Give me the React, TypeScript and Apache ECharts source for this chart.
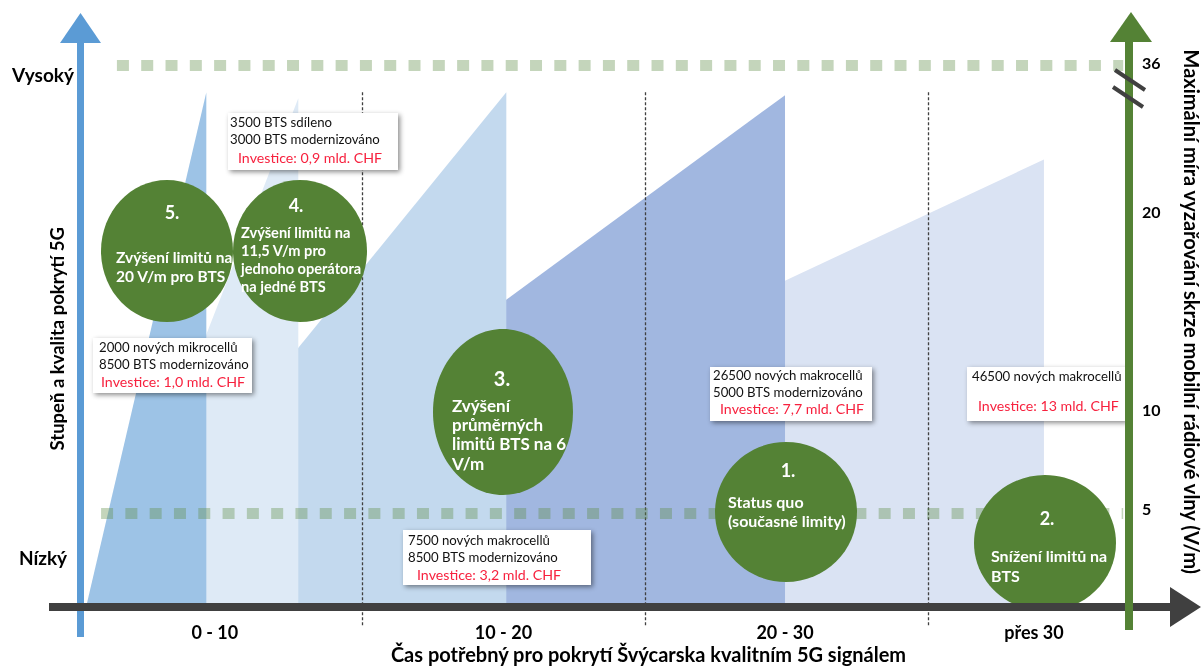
import React, { useEffect, useRef } from "react";
import * as echarts from "echarts";

const FONT = 'Lato, "Noto Sans", sans-serif';

// ---- data ----
const periodLabels = ["0 - 10", "10 - 20", "20 - 30", "přes 30"];
const periodCenters = [4.8, 15, 24.95, 33.75];
const periodBoundaries = [10, 20, 30];

const levelLabels = ["Nízký", "Vysoký"];
const levelValues = [2.5, 26.9];

const limitLabels = ["5", "10", "20", "36"];
const limitValues = [5, 10, 20, 27.5];
const limitGuideValues = [4.75, 27.35];
const limitGuideStarts = [0.78, 1.34];

// scenario coverage shapes: [time, coverage]
const scenario2 = [[0.3, 0], [34.1, 22.6], [34.1, 0]];
const scenario1 = [[0.3, 0], [24.95, 25.85], [24.95, 0]];
const scenario3 = [[0.3, 0], [15.1, 26], [15.1, 0]];
const scenario4 = [[0.75, 0], [7.75, 25.7], [7.75, 0]];
const scenario5 = [[0.25, 0], [4.5, 26], [4.5, 0]];

const circleTitles = ["5.", "4.", "3.", "1.", "2."];
const circleTexts = [
  ["Zvýšení limitů na", "20 V/m pro BTS"],
  ["Zvýšení limitů na", "11,5 V/m pro", "jednoho operátora", "na jedné BTS"],
  ["Zvýšení", "průměrných", "limitů BTS na 6", "V/m"],
  ["Status quo", "(současné limity)"],
  ["Snížení limitů na", "BTS"],
];

const boxTexts = [
  ["3500 BTS sdíleno", "3000 BTS modernizováno"],
  ["2000 nových mikrocellů", "8500 BTS modernizováno"],
  ["7500 nových makrocellů", "8500 BTS modernizováno"],
  ["26500 nových makrocellů", "5000 BTS modernizováno"],
  ["46500 nových makrocellů"],
];
const boxInvestments = [
  "Investice: 0,9 mld. CHF",
  "Investice: 1,0 mld. CHF",
  "Investice: 3,2 mld. CHF",
  "Investice: 7,7 mld. CHF",
  "Investice: 13 mld. CHF",
];

const xAxisTitle = "Čas potřebný pro pokrytí Švýcarska kvalitním 5G signálem";
const leftAxisTitle = "Stupeň a kvalita pokrytí 5G";
const rightAxisTitle = "Maximální míra vyzařování skrze mobilní rádiové vlny (V/m)";

// ---- layout (pixels) ----
const circleLayout = [
  { cx: 167, cy: 251, rx: 66, ry: 71, tx: 172, ty: 212, lx: 116, ly: [257, 276], fs: 15.5, ts: 18 },
  { cx: 300, cy: 251, rx: 67, ry: 71, tx: 296, ty: 205, lx: 241, ly: [232, 250, 268, 286], fs: 14.6, ts: 18 },
  { cx: 503, cy: 412, rx: 70, ry: 83, tx: 502, ty: 378, lx: 452, ly: [405, 424, 443, 463], fs: 17, ts: 20 },
  { cx: 786, cy: 512, rx: 71, ry: 70, tx: 788, ty: 470, lx: 728, ly: [501, 520], fs: 16, ts: 18 },
  { cx: 1045, cy: 543, rx: 71, ry: 68, tx: 1047, ty: 518, lx: 991, ly: [555, 575], fs: 16, ts: 18 },
];

const boxLayout = [
  { x: 228, y: 113, w: 170, h: 57, lx: 230, ly: [122, 139], rx: 238, ry: 157 },
  { x: 93, y: 338, w: 159, h: 55, lx: 99, ly: [347, 364], rx: 101, ry: 381 },
  { x: 403, y: 530, w: 188, h: 55, lx: 408, ly: [540, 557], rx: 417, ry: 574 },
  { x: 710, y: 367, w: 162, h: 54, lx: 713, ly: [375, 392], rx: 720, ry: 408 },
  { x: 967, y: 367, w: 159, h: 54, lx: 972, ly: [376], rx: 978, ry: 405 },
];

const GREEN = "#548235";
const BLUE = "#5b9bd5";
const DARK = "#404040";

function buildGraphics() {
  const els: any[] = [];
  // axes decorations
  els.push({ type: "rect", z: 50, shape: { x: 77, y: 40, width: 7, height: 597 }, style: { fill: BLUE } });
  els.push({ type: "polygon", z: 50, shape: { points: [[60, 43], [80.5, 13], [101, 43]] }, style: { fill: BLUE } });
  els.push({ type: "rect", z: 51, shape: { x: 49, y: 603, width: 1122, height: 8 }, style: { fill: DARK } });
  els.push({ type: "polygon", z: 51, shape: { points: [[1170, 587], [1201, 607], [1170, 627]] }, style: { fill: DARK } });
  els.push({ type: "rect", z: 52, shape: { x: 1125, y: 40, width: 8, height: 590 }, style: { fill: GREEN } });
  els.push({ type: "polygon", z: 52, shape: { points: [[1110, 42], [1131, 12], [1152, 42]] }, style: { fill: GREEN } });
  els.push({ type: "line", z: 53, shape: { x1: 1115, y1: 70, x2: 1145, y2: 90 }, style: { stroke: DARK, lineWidth: 4 } });
  els.push({ type: "line", z: 53, shape: { x1: 1113, y1: 87, x2: 1143, y2: 107 }, style: { stroke: DARK, lineWidth: 4 } });

  // circles
  circleLayout.forEach((c, i) => {
    els.push({ type: "ellipse", z: 20 + i, shape: { cx: c.cx, cy: c.cy, rx: c.rx, ry: c.ry }, style: { fill: GREEN } });
    els.push({
      type: "text", z: 20 + i, x: c.tx, y: c.ty,
      style: { text: circleTitles[i], fill: "#fff", fontSize: c.ts, fontWeight: "bold", fontFamily: FONT, align: "center", verticalAlign: "middle" },
    });
    circleTexts[i].forEach((t, j) => {
      els.push({
        type: "text", z: 20 + i, x: c.lx, y: c.ly[j],
        style: { text: t, fill: "#fff", fontSize: c.fs, fontWeight: "bold", fontFamily: FONT, align: "left", verticalAlign: "middle" },
      });
    });
  });

  // boxes
  boxLayout.forEach((b, i) => {
    els.push({
      type: "rect", z: 40, shape: { x: b.x, y: b.y, width: b.w, height: b.h },
      style: { fill: "#fff", shadowBlur: 5, shadowOffsetX: 2, shadowOffsetY: 2, shadowColor: "rgba(0,0,0,0.45)" },
    });
    boxTexts[i].forEach((t, j) => {
      els.push({
        type: "text", z: 41, x: b.lx, y: b.ly[j],
        style: { text: t, fill: "#111", fontSize: 13.2, fontFamily: FONT, align: "left", verticalAlign: "middle" },
      });
    });
    els.push({
      type: "text", z: 41, x: b.rx, y: b.ry,
      style: { text: boxInvestments[i], fill: "#f7213e", fontSize: 14.2, fontFamily: FONT, align: "left", verticalAlign: "middle" },
    });
  });
  return els;
}

function areaSeries(name: string, data: number[][], color: string) {
  return {
    name, type: "line", data, z: 2, silent: true,
    showSymbol: false, symbol: "none",
    lineStyle: { width: 0, opacity: 0 },
    areaStyle: { color, opacity: 1 },
  };
}

export default function App() {
  const ref = useRef<HTMLDivElement>(null);
  useEffect(() => {
    if (!ref.current) return;
    const chart = echarts.init(ref.current, null, { renderer: "svg" });
    const labelStyle = { color: "#000", fontWeight: "bold", fontFamily: FONT };
    chart.setOption({
      animation: false,
      grid: { left: 79, right: 77, top: 13, bottom: 19.4, containLabel: false, outerBoundsMode: "none" },
      xAxis: {
        type: "value", min: 0, max: 37, offset: -39.6,
        axisLine: { show: false, onZero: false },
        axisTick: { show: false },
        splitLine: { show: false },
        axisLabel: {
          ...labelStyle, fontSize: 18, margin: 16,
          customValues: periodCenters,
          formatter: (v: number) => {
            const k = periodCenters.findIndex((p) => Math.abs(p - v) < 1e-6);
            return k >= 0 ? periodLabels[k] : "";
          },
        },
        name: xAxisTitle, nameLocation: "middle", nameGap: 37, nameMoveOverlap: false,
        nameTextStyle: { ...labelStyle, fontSize: 20, padding: [0, 0, 0, 92] },
      },
      yAxis: [
        {
          type: "value", min: -2, max: 30, position: "left",
          axisLine: { show: false }, axisTick: { show: false }, splitLine: { show: false },
          axisLabel: {
            ...labelStyle, fontSize: 19, margin: 36, align: "center",
            customValues: levelValues,
            formatter: (v: number) => {
              const k = levelValues.findIndex((p) => Math.abs(p - v) < 1e-6);
              return k >= 0 ? levelLabels[k] : "";
            },
          },
          name: leftAxisTitle, nameLocation: "middle", nameRotate: 90, nameGap: 13, nameMoveOverlap: false,
          nameTextStyle: { ...labelStyle, fontSize: 18.5, padding: [0, 18, 0, 0] },
        },
        {
          type: "value", min: -2, max: 30, position: "right",
          axisLine: { show: false }, axisTick: { show: false }, splitLine: { show: false },
          axisLabel: {
            ...labelStyle, fontSize: 16, margin: 16,
            customValues: limitValues,
            formatter: (v: number) => {
              const k = limitValues.findIndex((p) => Math.abs(p - v) < 1e-6);
              return k >= 0 ? limitLabels[k] : "";
            },
          },
          name: rightAxisTitle, nameLocation: "middle", nameRotate: -90, nameGap: 56, nameMoveOverlap: false,
          nameTextStyle: { ...labelStyle, fontSize: 20, padding: [0, 36, 0, 0] },
        },
      ],
      series: [
        areaSeries("Snížení limitů", scenario2, "#dae3f3"),
        areaSeries("Status quo", scenario1, "#a1b7e0"),
        areaSeries("Průměrné limity 6 V/m", scenario3, "#c3d9ee"),
        areaSeries("11,5 V/m", scenario4, "#deeaf6"),
        areaSeries("20 V/m", scenario5, "#9dc3e6"),
        {
          name: "periods", type: "line", data: [[0, 0]], z: 3, silent: true,
          showSymbol: false, symbol: "none", lineStyle: { width: 0, opacity: 0 },
          markLine: {
            z: 6, silent: true, symbol: ["none", "none"], label: { show: false },
            lineStyle: { type: [3, 2], color: DARK, width: 1.3 },
            data: periodBoundaries.map((b) => [{ coord: [b, 26] }, { coord: [b, -1] }]),
          },
        },
        {
          name: "limits", type: "line", data: [[0, 0]], z: 3, silent: true,
          showSymbol: false, symbol: "none", lineStyle: { width: 0, opacity: 0 },
          markLine: {
            z: 7, silent: true, symbol: ["none", "none"], label: { show: false },
            lineStyle: { type: [12, 12.3], color: "#5e8e46", opacity: 0.37, width: 11, cap: "butt" },
            data: limitGuideValues.map((v, i) => [{ coord: [limitGuideStarts[i], v] }, { coord: [36.9, v] }]),
          },
        },
      ],
      graphic: { elements: buildGraphics() },
    });
    return () => chart.dispose();
  }, []);
  return <div ref={ref} style={{ position: "fixed", left: 0, top: 0, width: 1203, height: 666 }} />;
}
